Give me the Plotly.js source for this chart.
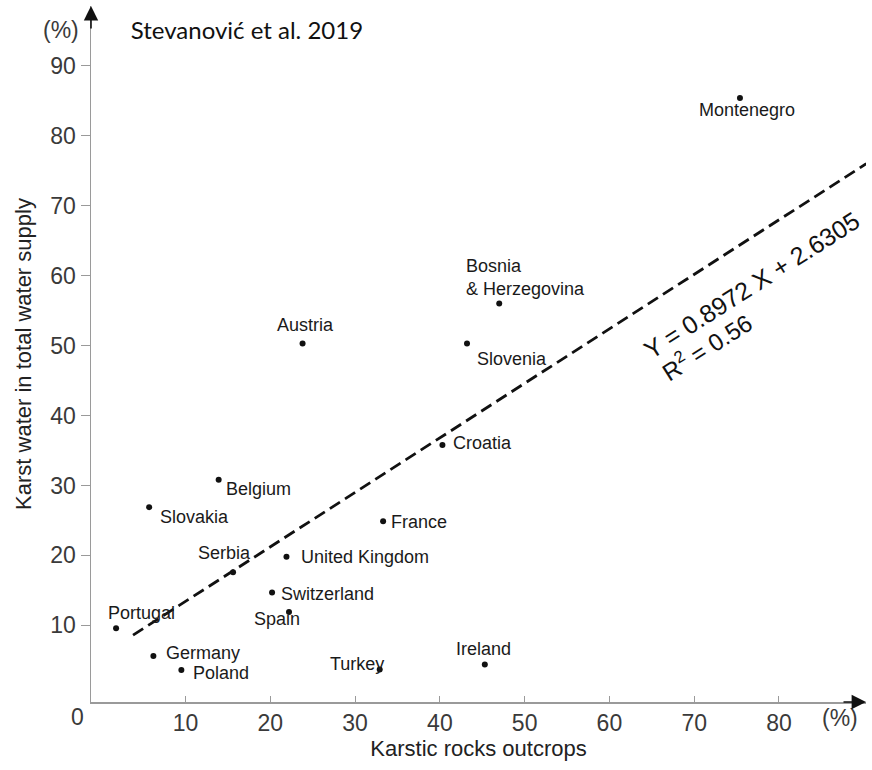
<!DOCTYPE html>
<html>
<head>
<meta charset="utf-8">
<script src="https://cdn.plot.ly/plotly-3.0.1.min.js"></script>
<style>
  html, body { margin: 0; padding: 0; background: #fff; }
  #chart { width: 872px; height: 770px; }
</style>
</head>
<body>
<div id="chart"></div>
<script>
// ---- data ----
var countries = ["Austria", "Montenegro", "Bosnia<br>& Herzegovina", "Slovenia", "Croatia", "France",
  "Ireland", "Belgium", "Slovakia", "Serbia", "United Kingdom", "Switzerland", "Spain",
  "Portugal", "Germany", "Poland", "Turkey"];
var karstOutcrops = [23.8, 75.4, 47.0, 43.2, 40.3, 33.3, 45.3, 13.9, 5.7, 15.6, 21.9, 20.2, 22.2, 1.8, 6.2, 9.5, 32.9];
var karstWater = [50.3, 85.4, 56.0, 50.3, 35.8, 24.9, 4.4, 30.8, 26.9, 17.6, 19.8, 14.7, 11.9, 9.6, 5.6, 3.6, 3.7];
var trendX = [3.8, 90.3];
var trendY = [8.6, 76.0];
var xTicks = [10, 20, 30, 40, 50, 60, 70, 80];
var yTicks = [10, 20, 30, 40, 50, 60, 70, 80, 90];
var equationText = "Y = 0.8972 X + 2.6305";
var r2Text = "R<sup>2</sup> = 0.56";

// ---- label placement (layout only) ----
var labelPlacement = {
  "Austria": {anchor: "center", dx: 3, dy: 18},
  "Montenegro": {anchor: "center", dx: 7, dy: -12},
  "Bosnia<br>& Herzegovina": {anchor: "left", dx: -35, dy: 26},
  "Slovenia": {anchor: "left", dx: 8, dy: -16},
  "Croatia": {anchor: "left", dx: 9, dy: 2},
  "France": {anchor: "left", dx: 6, dy: -1},
  "Ireland": {anchor: "center", dx: -1, dy: 16},
  "Belgium": {anchor: "left", dx: 5, dy: -9},
  "Slovakia": {anchor: "left", dx: 9, dy: -10},
  "Serbia": {anchor: "center", dx: -9, dy: 19},
  "United Kingdom": {anchor: "left", dx: 13, dy: 0},
  "Switzerland": {anchor: "left", dx: 7, dy: -2},
  "Spain": {anchor: "center", dx: -12, dy: -7},
  "Portugal": {anchor: "center", dx: 25, dy: 15},
  "Germany": {anchor: "left", dx: 11, dy: 3},
  "Poland": {anchor: "left", dx: 10, dy: -3},
  "Turkey": {anchor: "center", dx: -23, dy: 5}
};

var labelFont = {family: "Liberation Sans, Arial, sans-serif", size: 18, color: "#1a1a1a"};
var tickFont = {family: "Liberation Sans, Arial, sans-serif", size: 23, color: "#3a3a3a"};

var annotations = countries.map(function (c, i) {
  var p = labelPlacement[c];
  return {
    x: karstOutcrops[i], y: karstWater[i], xref: "x", yref: "y",
    text: c, showarrow: false, xanchor: p.anchor, yanchor: "middle",
    align: "left", xshift: p.dx, yshift: p.dy, font: labelFont
  };
});

// equation & R2
annotations.push({
  x: 76.8, y: 58.6, xref: "x", yref: "y", text: equationText, showarrow: false,
  xanchor: "center", yanchor: "middle",
  textangle: -32.5, font: {family: "Liberation Sans, Arial, sans-serif", size: 25, color: "#111"}
});
annotations.push({
  x: 71.5, y: 49.9, xref: "x", yref: "y", text: r2Text, showarrow: false,
  xanchor: "center", yanchor: "middle",
  textangle: -32.5, font: {family: "Liberation Sans, Arial, sans-serif", size: 24, color: "#111"}
});

// axis decorations
annotations.push({x: -0.0387, y: 0.9655, xref: "paper", yref: "paper", text: "(%)", showarrow: false,
  xanchor: "center", yanchor: "middle", font: tickFont});
annotations.push({x: 0.967, y: -0.023, xref: "paper", yref: "paper", text: "(%)", showarrow: false,
  xanchor: "center", yanchor: "middle", font: tickFont});
annotations.push({x: -0.0168, y: -0.0216, xref: "paper", yref: "paper", text: "0", showarrow: false,
  xanchor: "center", yanchor: "middle", font: tickFont});
annotations.push({x: 1, y: 0, xref: "paper", yref: "paper", text: "", showarrow: true,
  ax: -24, ay: 0, arrowhead: 2, arrowsize: 1.8, arrowwidth: 1.6, arrowcolor: "#111", standoff: 0});
annotations.push({x: 0, y: 1, xref: "paper", yref: "paper", text: "", showarrow: true,
  ax: 0, ay: 24, arrowhead: 2, arrowsize: 1.8, arrowwidth: 1.6, arrowcolor: "#111", standoff: 0});

var traces = [
  {
    x: trendX, y: trendY, type: "scatter", mode: "lines",
    line: {color: "#111", width: 2.8, dash: "12px,6px"},
    hoverinfo: "skip", showlegend: false
  },
  {
    x: karstOutcrops, y: karstWater, type: "scatter", mode: "markers",
    marker: {color: "#111", size: 6},
    text: countries, hoverinfo: "text+x+y", showlegend: false
  }
];

var layout = {
  width: 872, height: 770,
  margin: {l: 91, r: 6, t: 6, b: 68},
  paper_bgcolor: "#fff", plot_bgcolor: "#fff",
  showlegend: false,
  title: {
    text: "Stevanović et al. 2019",
    x: 0.150, xref: "container", xanchor: "left",
    y: 0.96, yref: "container", yanchor: "middle",
    font: {family: "Lato, Carlito, sans-serif", size: 24, color: "#111"}
  },
  xaxis: {
    range: [-1.16, 90.27], tickvals: xTicks, ticktext: xTicks.map(String),
    showgrid: false, zeroline: false, showline: true, linecolor: "#9a9a9a", linewidth: 1.5,
    ticks: "inside", ticklen: 6, tickcolor: "#9a9a9a", tickwidth: 1,
    tickfont: tickFont,
    title: {text: "Karstic rocks outcrops", standoff: 0,
      font: {family: "Liberation Sans, Arial, sans-serif", size: 22, color: "#222"}}
  },
  yaxis: {
    range: [-0.96, 98.55], tickvals: yTicks, ticktext: yTicks.map(String),
    showgrid: false, zeroline: false, showline: true, linecolor: "#9a9a9a", linewidth: 1.5,
    ticks: "outside", ticklen: 9, tickcolor: "#9a9a9a", tickwidth: 1,
    tickfont: tickFont,
    title: {text: "Karst water in total water supply", standoff: 12,
      font: {family: "Liberation Sans, Arial, sans-serif", size: 22, color: "#222"}}
  },
  annotations: annotations
};

Plotly.newPlot("chart", traces, layout, {displayModeBar: false, staticPlot: true});
</script>
</body>
</html>
